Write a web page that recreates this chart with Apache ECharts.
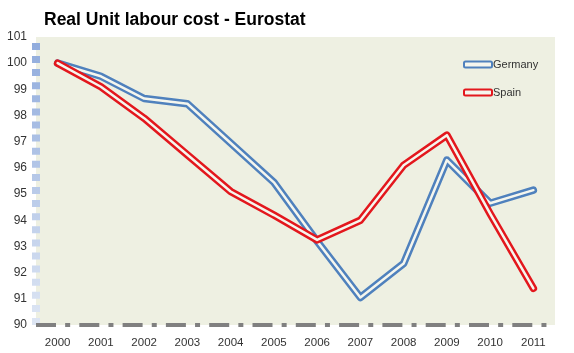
<!DOCTYPE html>
<html>
<head>
<meta charset="utf-8">
<script src="https://cdn.jsdelivr.net/npm/echarts@6/dist/echarts.min.js"></script>
<style>
  html, body { margin: 0; padding: 0; background: #fff; }
  #chart { width: 574px; height: 353px; }
</style>
</head>
<body>
<div id="chart"></div>
<script>
// categories and values
const years = ['2000', '2001', '2002', '2003', '2004', '2005', '2006', '2007', '2008', '2009', '2010', '2011']
const germany = [100, 99.5, 98.65, 98.45, 96.95, 95.45, 93.2, 91.05, 92.35, 96.3, 94.65, 95.15]
const spain = [100, 99.1, 97.9, 96.5, 95.1, 94.2, 93.25, 94.0, 96.1, 97.25, 94.25, 91.4]

const plotBg = '#eef0e2'
const innerColor = '#f5f6ee'
const blue = '#4f81bd'
const red = '#e3171d'

// excel style "double" line: thick coloured stroke with a thin light stroke on top
function doubleLine(name, values, color) {
  return [
    {
      name: name,
      type: 'line',
      data: values,
      symbol: 'none',
      silent: true,
      lineStyle: { color: color, width: 7.5, cap: 'round', join: 'round' }
    },
    {
      name: name,
      type: 'line',
      data: values,
      symbol: 'none',
      silent: true,
      lineStyle: { color: innerColor, width: 2.5, cap: 'round', join: 'round' }
    }
  ]
}

const chart = echarts.init(document.getElementById('chart'))
chart.setOption({
  animation: false,
  backgroundColor: '#fff',
  title: {
    text: 'Real Unit labour cost - Eurostat',
    left: 39,
    top: 6,
    textStyle: {
      fontFamily: 'Liberation Sans',
      fontSize: 17.5,
      fontWeight: 'bold',
      color: '#000'
    }
  },
  legend: {
    orient: 'vertical',
    left: 458,
    top: 54,
    icon: 'roundRect',
    itemWidth: 28,
    itemHeight: 6,
    itemGap: 17,
    textStyle: { fontFamily: 'Liberation Sans', fontSize: 11, color: '#333', padding: [0, 0, 0, -4] },
    data: [
      { name: 'Germany', itemStyle: { color: innerColor, borderColor: blue, borderWidth: 2 } },
      { name: 'Spain', itemStyle: { color: innerColor, borderColor: red, borderWidth: 2 } }
    ]
  },
  grid: {
    left: 36,
    right: 19,
    top: 37,
    bottom: 28,
    show: true,
    backgroundColor: plotBg,
    borderWidth: 0
  },
  xAxis: {
    type: 'category',
    data: years,
    boundaryGap: true,
    axisTick: { show: false },
    axisLine: {
      lineStyle: { color: '#808080', width: 4, cap: 'butt', type: [20, 9.15, 5, 9.15] }
    },
    axisLabel: {
      margin: 12,
      fontFamily: 'Liberation Sans',
      fontSize: 11.5,
      color: '#333'
    }
  },
  yAxis: {
    type: 'value',
    min: 90,
    max: 101,
    interval: 1,
    splitLine: { show: false },
    axisTick: { show: false },
    axisLine: {
      show: true,
      lineStyle: {
        width: 8,
        cap: 'butt',
        type: [7, 6.1],
        color: new echarts.graphic.LinearGradient(0, 0, 0, 1, [
          { offset: 0, color: '#8eaadc' },
          { offset: 1, color: '#dfe7f4' }
        ])
      }
    },
    axisLabel: {
      margin: 9,
      fontFamily: 'Liberation Sans',
      fontSize: 12,
      color: '#333'
    }
  },
  series: [].concat(doubleLine('Germany', germany, blue), doubleLine('Spain', spain, red))
})
</script>
</body>
</html>
